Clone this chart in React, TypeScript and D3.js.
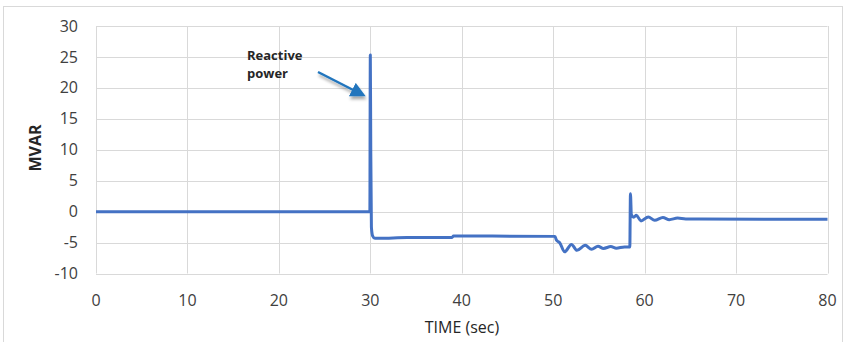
import * as d3 from 'd3';
import { useEffect, useRef } from 'react';

const timeSec = [0, 29.95, 30.0, 30.05, 30.12, 30.25, 30.5, 31, 34, 38.9, 39.1, 50.2, 50.35, 50.5, 50.7, 51.25, 52.0, 52.6, 53.5, 54.2, 54.9, 55.5, 56.3, 56.9, 57.8, 58.38, 58.45, 58.55, 58.8, 59.1, 59.6, 60.4, 61.1, 62.0, 62.7, 63.6, 64.5, 66, 80];
const mvar = [0, 0, 25.3, 10, -2.5, -3.9, -4.3, -4.3, -4.2, -4.2, -3.95, -4.0, -4.6, -4.8, -5.0, -6.5, -5.3, -6.25, -5.45, -6.1, -5.6, -5.95, -5.65, -5.9, -5.7, -5.7, 2.9, -0.5, -0.9, -0.6, -1.5, -0.85, -1.4, -0.95, -1.3, -1.05, -1.2, -1.2, -1.25];
const xTicks = [0, 10, 20, 30, 40, 50, 60, 70, 80];
const yTicks = [-10, -5, 0, 5, 10, 15, 20, 25, 30];

export default function App() {
  const svgRef = useRef<SVGSVGElement>(null);

  useEffect(() => {
    const svg = d3.select(svgRef.current);
    svg.selectAll('*').remove();
    const font = "'Open Sans', sans-serif";

    const x = d3.scaleLinear().domain([0, 80]).range([96, 827.5]);
    const y = d3.scaleLinear().domain([-10, 30]).range([273.5, 26]);

    // chart area border
    svg.append('rect')
      .attr('x', 3.5).attr('y', 6.5).attr('width', 839).attr('height', 340)
      .attr('fill', 'white').attr('stroke', '#d9d9d9');

    // gridlines
    svg.append('g').selectAll('line').data(yTicks).join('line')
      .attr('x1', x(0)).attr('x2', x(80))
      .attr('y1', d => Math.round(y(d)) + 0.5).attr('y2', d => Math.round(y(d)) + 0.5)
      .attr('stroke', '#d9d9d9').attr('stroke-width', 1);
    svg.append('g').selectAll('line').data(xTicks).join('line')
      .attr('x1', d => Math.round(x(d)) + 0.5).attr('x2', d => Math.round(x(d)) + 0.5)
      .attr('y1', y(-10)).attr('y2', y(30))
      .attr('stroke', '#d9d9d9').attr('stroke-width', 1);

    // tick labels
    svg.append('g').selectAll('text').data(yTicks).join('text')
      .attr('x', 78).attr('y', d => y(d)).attr('dy', '0.35em')
      .attr('text-anchor', 'end').attr('font-family', font).attr('font-size', 16)
      .attr('fill', '#404040').text(d => d);
    svg.append('g').selectAll('text').data(xTicks).join('text')
      .attr('x', d => x(d)).attr('y', 306)
      .attr('text-anchor', 'middle').attr('font-family', font).attr('font-size', 16)
      .attr('fill', '#404040').text(d => d);

    // axis titles
    svg.append('text')
      .attr('transform', 'translate(41,148) rotate(-90)')
      .attr('text-anchor', 'middle').attr('font-family', font).attr('font-size', 16)
      .attr('font-weight', 'bold').attr('fill', '#262626').text('MVAR');
    svg.append('text')
      .attr('x', 462).attr('y', 333)
      .attr('text-anchor', 'middle').attr('font-family', font).attr('font-size', 16)
      .attr('fill', '#262626').text('TIME (sec)');

    // series
    const pts = timeSec.map((t, i) => [t, mvar[i]] as [number, number]);
    const line = d3.line<[number, number]>().x(d => x(d[0])).y(d => y(d[1])).curve(d3.curveMonotoneX);
    svg.append('path').datum(pts)
      .attr('d', line)
      .attr('fill', 'none').attr('stroke', '#4472c4').attr('stroke-width', 3)
      .attr('stroke-linejoin', 'round');

    // annotation
    const defs = svg.append('defs');
    const shadow = defs.append('filter').attr('id', 'sh').attr('x', '-50%').attr('y', '-50%')
      .attr('width', '200%').attr('height', '200%');
    shadow.append('feDropShadow').attr('dx', 1).attr('dy', 3).attr('stdDeviation', 1.5)
      .attr('flood-color', '#000').attr('flood-opacity', 0.35);
    defs.append('marker').attr('id', 'arr')
      .attr('viewBox', '0 0 10 10').attr('refX', 8).attr('refY', 5)
      .attr('markerWidth', 6).attr('markerHeight', 6).attr('orient', 'auto')
      .attr('markerUnits', 'strokeWidth')
      .append('path').attr('d', 'M0,0 L10,5 L0,10 Z').attr('fill', '#2075bd');
    svg.append('line')
      .attr('x1', 318).attr('y1', 72).attr('x2', 363).attr('y2', 95)
      .attr('stroke', '#2075bd').attr('stroke-width', 2.5).attr('marker-end', 'url(#arr)')
      .attr('filter', 'url(#sh)');
    svg.append('text')
      .attr('x', 247).attr('y', 59.5).attr('font-family', font).attr('font-size', 13)
      .attr('font-weight', 'bold').attr('fill', '#262626').text('Reactive');
    svg.append('text')
      .attr('x', 247).attr('y', 77.5).attr('font-family', font).attr('font-size', 13)
      .attr('font-weight', 'bold').attr('fill', '#262626').text('power');
  }, []);

  return (
    <svg ref={svgRef} width={846} height={342}
      style={{ position: 'absolute', left: 0, top: 0, background: 'white' }} />
  );
}
